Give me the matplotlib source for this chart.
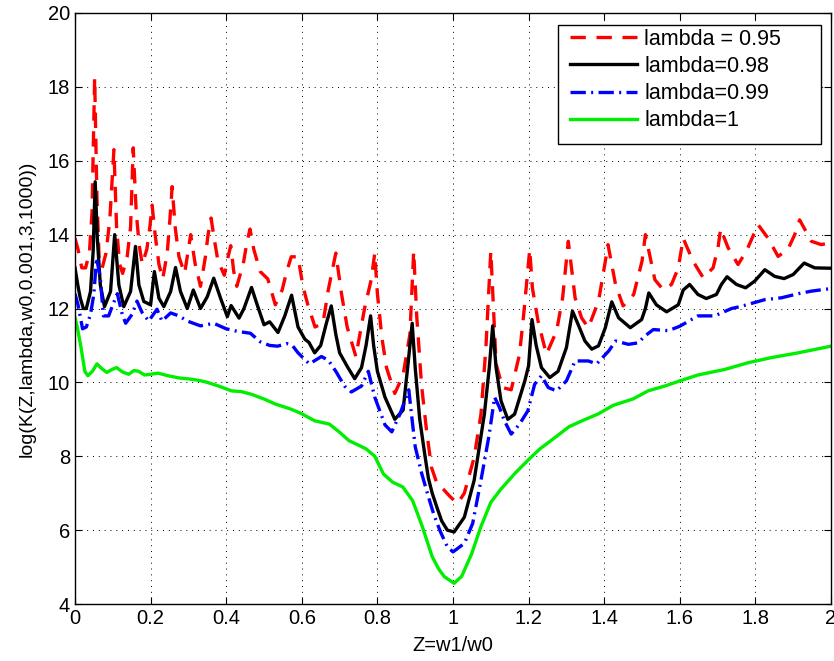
import numpy as np
import matplotlib
matplotlib.use("Agg")
import matplotlib.pyplot as plt
from matplotlib.patches import Rectangle

plt.rcParams['font.family'] = ['Liberation Sans', 'DejaVu Sans']
plt.rcParams['font.size'] = 14

### DATA ###

x_095 = [0.000, 0.008, 0.018, 0.028, 0.038, 0.045, 0.052, 0.058, 0.064, 0.072,
         0.082, 0.092, 0.103, 0.110, 0.118, 0.126, 0.138, 0.147, 0.154, 0.162,
         0.170, 0.178, 0.190, 0.198, 0.204, 0.212, 0.222, 0.232, 0.244, 0.251,
         0.257, 0.265, 0.275, 0.290, 0.300, 0.306, 0.318, 0.332, 0.345, 0.352,
         0.360, 0.368, 0.378, 0.395, 0.405, 0.412, 0.420, 0.428, 0.445, 0.455,
         0.463, 0.473, 0.490, 0.510, 0.530, 0.548, 0.560, 0.572, 0.590, 0.603,
         0.616, 0.635, 0.656, 0.670, 0.690, 0.705, 0.720, 0.743, 0.766, 0.784,
         0.793, 0.800, 0.812, 0.824, 0.846, 0.868, 0.886, 0.896, 0.904, 0.917,
         0.930, 0.943, 0.958, 0.975, 0.993, 1.012, 1.030, 1.056, 1.074, 1.087,
         1.096, 1.100, 1.114, 1.131, 1.154, 1.176, 1.187, 1.203, 1.210, 1.225,
         1.247, 1.274, 1.290, 1.305, 1.323, 1.340, 1.358, 1.385, 1.403, 1.410,
         1.430, 1.450, 1.478, 1.500, 1.509, 1.520, 1.534, 1.556, 1.578, 1.596,
         1.609, 1.635, 1.662, 1.688, 1.701, 1.708, 1.728, 1.754, 1.776, 1.807,
         1.833, 1.860, 1.886, 1.904, 1.917, 1.948, 1.974, 2.000]
y_095 = [13.9, 13.6, 13.1, 13.1, 13.5, 14.6, 18.25, 15.0, 13.3, 13.1,
         13.5, 14.4, 16.3, 14.2, 13.2, 12.95, 13.4, 14.2, 16.35, 14.6,
         13.7, 13.2, 13.6, 14.2, 14.8, 14.0, 13.2, 12.8, 13.5, 14.4,
         15.3, 14.2, 13.4, 12.95, 13.6, 14.0, 13.2, 12.6, 13.4, 14.0,
         14.45, 13.9, 13.3, 12.9, 13.4, 13.7, 13.0, 12.6, 13.2, 13.8,
         14.15, 13.6, 13.0, 12.8, 12.1, 12.5, 13.0, 13.4, 13.4, 12.6,
         12.1, 11.5, 11.6, 12.5, 13.5, 12.4, 11.5, 10.7, 12.0, 12.8,
         13.5, 12.4, 11.2, 10.4, 9.7, 10.2, 11.3, 13.55, 11.8, 9.9,
         8.7, 7.7, 7.25, 7.1, 6.9, 6.72, 7.0, 7.97, 9.14, 10.94,
         12.74, 13.55, 10.5, 9.86, 9.8, 10.76, 11.84, 13.6, 12.56, 11.66,
         10.76, 11.39, 12.29, 13.82, 12.29, 11.75, 11.48, 12.2, 13.28, 13.73,
         12.65, 12.07, 12.38, 13.28, 14.0, 13.46, 12.78, 12.51, 12.65, 13.1,
         13.9, 13.28, 12.83, 13.1, 13.64, 14.16, 13.64, 13.19, 13.55, 14.27,
         13.91, 13.41, 13.6, 14.0, 14.4, 13.82, 13.73, 13.78]

x_098 = [0.000, 0.008, 0.014, 0.022, 0.030, 0.041, 0.048, 0.0534, 0.059, 0.067,
         0.078, 0.094, 0.105, 0.116, 0.129, 0.147, 0.160, 0.169, 0.182, 0.200,
         0.210, 0.222, 0.235, 0.253, 0.266, 0.279, 0.297, 0.313, 0.332, 0.350,
         0.367, 0.385, 0.403, 0.413, 0.434, 0.447, 0.467, 0.482, 0.500, 0.515,
         0.537, 0.555, 0.573, 0.590, 0.608, 0.619, 0.634, 0.650, 0.665, 0.678,
         0.690, 0.700, 0.722, 0.740, 0.758, 0.770, 0.782, 0.790, 0.800, 0.820,
         0.846, 0.868, 0.880, 0.892, 0.900, 0.912, 0.926, 0.935, 0.945, 0.958,
         0.970, 0.985, 1.003, 1.030, 1.056, 1.083, 1.096, 1.105, 1.114, 1.127,
         1.145, 1.163, 1.190, 1.200, 1.209, 1.220, 1.234, 1.256, 1.278, 1.300,
         1.316, 1.331, 1.349, 1.367, 1.385, 1.403, 1.420, 1.438, 1.469, 1.499,
         1.509, 1.518, 1.538, 1.565, 1.596, 1.609, 1.626, 1.648, 1.670, 1.697,
         1.710, 1.725, 1.750, 1.774, 1.798, 1.825, 1.851, 1.876, 1.900, 1.929,
         1.957, 2.000]
y_098 = [13.1, 12.6, 12.28, 12.0, 12.0, 12.46, 13.54, 15.43, 13.9, 12.64,
         12.05, 12.46, 14.0, 12.64, 12.05, 12.46, 13.68, 12.64, 12.19, 12.1,
         13.0, 12.28, 12.05, 12.46, 13.11, 12.46, 12.0, 12.5, 12.0, 12.32,
         12.82, 12.28, 11.78, 12.08, 11.74, 12.0, 12.57, 12.1, 11.56, 11.64,
         11.35, 11.8, 12.36, 11.5, 11.17, 11.08, 10.8, 11.0, 11.6, 12.07,
         11.3, 10.8, 10.4, 10.1, 10.4, 11.0, 11.8, 11.0, 10.3, 9.6,
         9.0, 9.25, 10.4, 11.6, 10.4, 9.0, 8.0, 7.4, 7.0, 6.6,
         6.25, 6.0, 5.95, 6.35, 7.35, 9.14, 10.4, 11.53, 10.4, 9.5,
         9.0, 9.14, 10.04, 10.45, 11.7, 11.0, 10.4, 10.13, 10.3, 10.94,
         11.93, 11.57, 11.12, 10.9, 10.99, 11.48, 12.18, 11.75, 11.48, 11.7,
         12.0, 12.42, 12.1, 11.91, 12.1, 12.5, 12.65, 12.38, 12.27, 12.38,
         12.65, 12.86, 12.65, 12.56, 12.74, 13.05, 12.87, 12.81, 12.92, 13.23,
         13.1, 13.09]

x_099 = [0.000, 0.008, 0.020, 0.030, 0.041, 0.050, 0.057, 0.067, 0.075, 0.089,
         0.100, 0.112, 0.125, 0.134, 0.151, 0.164, 0.177, 0.195, 0.217, 0.230,
         0.253, 0.275, 0.297, 0.332, 0.367, 0.400, 0.430, 0.464, 0.490, 0.515,
         0.536, 0.560, 0.575, 0.590, 0.620, 0.652, 0.670, 0.690, 0.713, 0.731,
         0.758, 0.776, 0.793, 0.820, 0.838, 0.860, 0.883, 0.890, 0.900, 0.917,
         0.935, 0.950, 0.967, 0.985, 1.000, 1.030, 1.052, 1.074, 1.096, 1.110,
         1.123, 1.136, 1.154, 1.176, 1.198, 1.216, 1.234, 1.252, 1.274, 1.300,
         1.323, 1.358, 1.380, 1.412, 1.430, 1.464, 1.490, 1.507, 1.530, 1.570,
         1.600, 1.648, 1.692, 1.737, 1.763, 1.825, 1.869, 1.913, 1.948, 2.000]
y_099 = [12.4, 12.1, 11.45, 11.5, 11.84, 12.4, 13.37, 12.83, 11.8, 11.8,
         12.1, 12.4, 11.84, 11.6, 11.84, 12.2, 11.9, 11.66, 11.98, 11.66,
         11.88, 11.8, 11.66, 11.53, 11.6, 11.45, 11.38, 11.33, 11.1, 11.0,
         10.98, 11.05, 11.0, 10.8, 10.5, 10.7, 10.6, 10.3, 9.9, 9.74,
         9.9, 10.3, 9.6, 8.85, 8.66, 9.15, 9.8, 9.15, 8.26, 7.54,
         6.9, 6.4, 5.95, 5.55, 5.41, 5.64, 6.18, 7.35, 8.6, 9.6,
         9.32, 8.96, 8.6, 8.87, 9.23, 9.95, 10.18, 9.86, 9.77, 10.04,
         10.58, 10.58, 10.5, 10.85, 11.12, 11.03, 11.07, 11.25, 11.43, 11.4,
         11.52, 11.8, 11.8, 12.0, 12.06, 12.24, 12.29, 12.4, 12.47, 12.54]

x_1 = [0.000, 0.006, 0.016, 0.026, 0.034, 0.046, 0.058, 0.070, 0.084, 0.098,
       0.110, 0.126, 0.142, 0.156, 0.168, 0.184, 0.200, 0.220, 0.246, 0.275,
       0.304, 0.330, 0.350, 0.380, 0.414, 0.440, 0.466, 0.500, 0.531, 0.570,
       0.598, 0.634, 0.673, 0.700, 0.725, 0.750, 0.770, 0.793, 0.816, 0.840,
       0.867, 0.893, 0.906, 0.919, 0.945, 0.962, 0.977, 1.003, 1.023, 1.049,
       1.074, 1.100, 1.126, 1.165, 1.204, 1.230, 1.269, 1.307, 1.346, 1.385,
       1.424, 1.476, 1.516, 1.560, 1.600, 1.648, 1.719, 1.780, 1.842, 1.913,
       2.000]
y_1 = [11.75, 11.5, 10.94, 10.3, 10.18, 10.3, 10.5, 10.38, 10.27, 10.35,
       10.4, 10.28, 10.22, 10.32, 10.3, 10.2, 10.22, 10.25, 10.18, 10.12,
       10.09, 10.05, 10.0, 9.9, 9.77, 9.75, 9.68, 9.55, 9.41, 9.28,
       9.16, 8.96, 8.87, 8.65, 8.42, 8.3, 8.2, 8.0, 7.52, 7.3,
       7.17, 6.8, 6.45, 6.09, 5.28, 4.95, 4.74, 4.56, 4.75, 5.35,
       6.1, 6.75, 7.1, 7.55, 7.95, 8.2, 8.5, 8.8, 8.98, 9.15,
       9.38, 9.55, 9.77, 9.9, 10.04, 10.2, 10.35, 10.53, 10.67, 10.8,
       10.98]

labels = ['lambda = 0.95', 'lambda=0.98', 'lambda=0.99', 'lambda=1']
x_ticks = [0, 0.2, 0.4, 0.6, 0.8, 1, 1.2, 1.4, 1.6, 1.8, 2]
x_tick_labels = ['0', '0.2', '0.4', '0.6', '0.8', '1', '1.2', '1.4', '1.6', '1.8', '2']
y_ticks = [4, 6, 8, 10, 12, 14, 16, 18, 20]

### PLOT ###

W, H = 834, 661
fig = plt.figure(figsize=(W / 100, H / 100), dpi=100)
ax = fig.add_axes([75 / W, 57 / H, 756 / W, 591 / H])

lw = 2.4
ax.plot(x_095, y_095, color='#ff0000', lw=lw, linestyle=(0, (4.6, 3.2)), label=labels[0])
ax.plot(x_098, y_098, color='black', lw=lw, label=labels[1])
ax.plot(x_099, y_099, color='#0000ff', lw=lw, linestyle=(0, (4.6, 1.6, 0.6, 1.6)), label=labels[2])
ax.plot(x_1, y_1, color='#00ee00', lw=lw, label=labels[3])

ax.set_xlim(0, 2)
ax.set_ylim(4, 20)
ax.set_xticks(x_ticks)
ax.set_xticklabels(x_tick_labels)
ax.set_yticks(y_ticks)
ax.tick_params(direction='in', top=True, right=True, length=5, width=0.8, labelsize=14.5)
ax.grid(True, color='black', linestyle=(0, (1, 5)), linewidth=0.7)
for s in ax.spines.values():
    s.set_linewidth(1.0)

ax.set_xlabel('Z=w1/w0', fontsize=14.5, labelpad=6)
ax.set_ylabel('log(K(Z,lambda,w0,0.001,3,1000))', fontsize=14, labelpad=9)

# MATLAB-like legend: entries without frame, plain box drawn behind them
box = Rectangle((558 / W, 1 - 144 / H), 263 / W, 119 / H, transform=fig.transFigure,
                facecolor='white', edgecolor='black', linewidth=1.0, zorder=4)
fig.add_artist(box)
leg = fig.legend(*ax.get_legend_handles_labels(), loc='upper left',
                 bbox_to_anchor=(570 / W, 1 - 29 / H), borderaxespad=0, borderpad=0,
                 frameon=False, fontsize=15.5, handlelength=3.1, handletextpad=0.35,
                 labelspacing=0.28)
leg.set_zorder(5)

plt.savefig('out.png', dpi=100)
